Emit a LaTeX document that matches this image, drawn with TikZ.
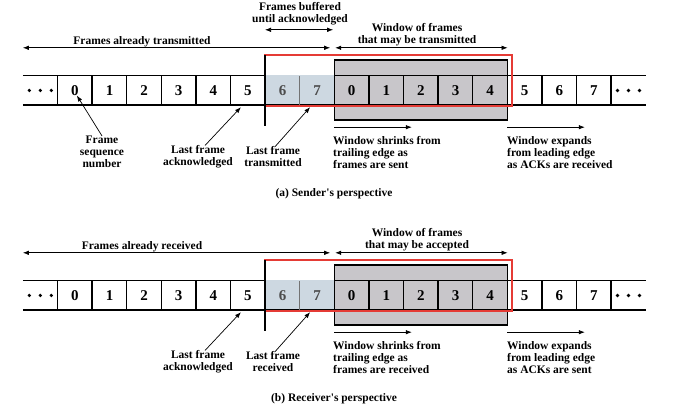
\documentclass[tikz,border=0pt]{standalone}
\usepackage{fontspec}
\setmainfont{Liberation Serif}
\usepackage{tikz}
\usetikzlibrary{arrows.meta}
\definecolor{winfill}{HTML}{C8C6CA}
\definecolor{bufblue}{HTML}{CDD8E1}
\definecolor{winred}{HTML}{E53B35}
\def\tipshape{Latex[length=6pt,width=4.5pt]}

\begin{document}
\begin{tikzpicture}[x=1pt,y=-1pt,
    cell/.style={minimum width=34.6pt, minimum height=29pt, inner sep=0pt, font=\fontsize{15}{15}\selectfont\bfseries},
    lbl/.style={font=\fontsize{11.5}{12}\selectfont\bfseries, align=center, inner sep=0pt},
    note/.style={lbl, align=left, anchor=north west},
    strip/.style={line width=1.4pt},
    ptr/.style={-{\tipshape}, line width=0.7pt},
    dimline/.style={{\tipshape}-{\tipshape}, line width=0.7pt}]
        \useasboundingbox (0,0) rectangle (680,411);
        % both strips, sender on top, receiver below
        \foreach \p/\dy in {s/0,r/205}{
        \begin{scope}[yshift=-\dy pt]
        \draw[fill=winfill, line width=1.3pt] (334.4,60) rectangle (507.4,120);
        \fill[bufblue] (265.2,75) rectangle (334.4,105);
        \foreach \k in {0,...,17}{
            \pgfmathtruncatemacro\seq{mod(\k+7,8)}
            \node[cell] (\p\k) at ({40.3+34.6*\k},90.5) {\ifnum\k=0\else\ifnum\k=17\else\ifnum\k<9\ifnum\k>6\color{black!70}\fi\fi\seq\fi\fi};
        }
        \draw[strip] (\p0.north west) -- (\p7.north west) (\p9.north west) -- (\p17.north east);
        \draw[strip] (\p0.south west) -- (\p17.south east);
        \foreach \k in {1,...,17}{
            \ifnum\k=8 \def\dc{black!55}\else\def\dc{black}\fi
            \draw[strip, draw=\dc] (\p\k.north west) -- (\p\k.south west);
        }
        \foreach \d in {-11,0,11}{
            \fill ([xshift=\d pt]\p0.center) circle (1.8pt);
            \fill ([xshift=\d pt]\p17.center) circle (1.8pt);
        }
        \draw[winred, line width=1.8pt] ([yshift=21pt]\p7.north west) rectangle ([xshift=4pt, yshift=-1pt]\p13.south east);
        \draw[line width=2.2pt] ([yshift=21pt]\p7.north west) -- ([yshift=-21pt]\p7.south west);
        \draw[dimline] ([yshift=28pt]\p0.north west) -- ([yshift=28pt, xshift=-4pt]\p9.north west);
        \draw[dimline] ([yshift=28pt, xshift=1pt]\p9.north west) -- ([yshift=28pt]\p13.north east);
        \draw[ptr] ([yshift=-22pt]\p9.south west) -- ([yshift=-22pt, xshift=8pt]\p10.south east);
        \draw[ptr] ([yshift=-22pt]\p14.south west) -- ([yshift=-22pt, xshift=8pt]\p15.south east);
        \end{scope}
        }
        % sender's labels
        \node[lbl] (sdone) at (142,42) {Frames already transmitted};
        \node[lbl] (sbuf) at (300,14) {Frames buffered\\until acknowledged};
        \draw[dimline] ([yshift=46pt]s7.north west) -- ([yshift=46pt, xshift=-1pt]s9.north west);
        \node[lbl] (swin) at (417,35) {Window of frames\\that may be transmitted};
        \node[lbl] (sseq) at (102,152) {Frame\\sequence\\number};
        \node[lbl] (sack) at (198,157) {Last frame\\acknowledged};
        \node[lbl] (slast) at (273,157) {Last frame\\transmitted};
        \draw[ptr] (sseq.north) -- ([xshift=2pt, yshift=-5pt]s1.center);
        \draw[ptr] ([xshift=7pt]sack.north) -- ([xshift=-7pt, yshift=-2pt]s6.south);
        \draw[ptr] ([xshift=2pt]slast.north) -- ([xshift=-7pt, yshift=-2pt]s8.south);
        \node[note] (sshrink) at (333,136) {Window shrinks from\\trailing edge as\\frames are sent};
        \node[note] (sgrow) at (507,136) {Window expands\\from leading edge\\as ACKs are received};
        \node[lbl] (scap) at (334,194) {(a) Sender\textquotesingle s perspective};
        % receiver's labels
        \node[lbl] (rdone) at (142,247) {Frames already received};
        \node[lbl] (rwin) at (417,240) {Window of frames\\that may be accepted};
        \node[lbl] (rack) at (198,362) {Last frame\\acknowledged};
        \node[lbl] (rlast) at (273,362) {Last frame\\received};
        \draw[ptr] ([xshift=7pt]rack.north) -- ([xshift=-7pt, yshift=-2pt]r6.south);
        \draw[ptr] ([xshift=2pt]rlast.north) -- ([xshift=-7pt, yshift=-2pt]r8.south);
        \node[note] (rshrink) at (333,341) {Window shrinks from\\trailing edge as\\frames are received};
        \node[note] (rgrow) at (507,341) {Window expands\\from leading edge\\as ACKs are sent};
        \node[lbl] (rcap) at (334,399) {(b) Receiver\textquotesingle s perspective};
      \end{tikzpicture}
\end{document}
